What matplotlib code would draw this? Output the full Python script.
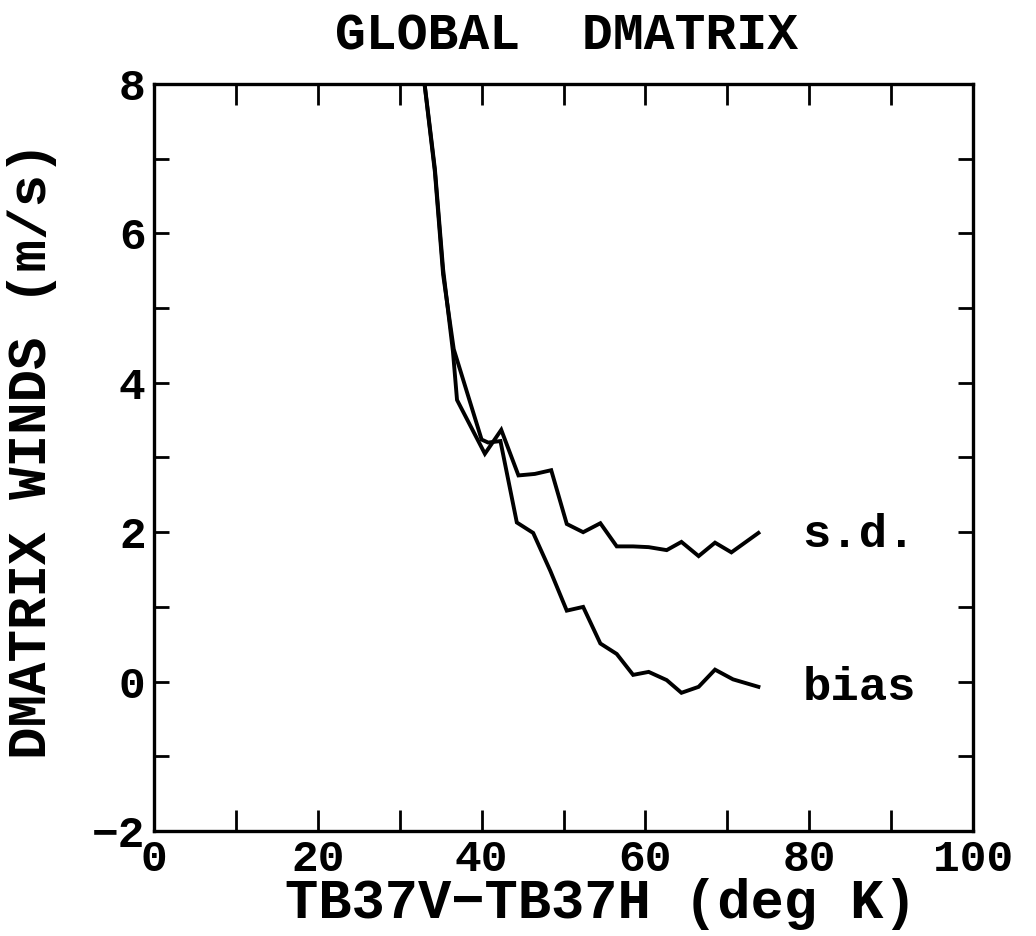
import matplotlib
matplotlib.use("Agg")
import matplotlib.pyplot as plt
from matplotlib.ticker import MultipleLocator

# Brightness-temperature difference (deg K) and DMATRIX wind statistics (m/s)
sd_x = [32.6, 34.3, 35.3, 36.5, 37.0, 40.4, 42.4, 44.5, 46.5, 48.5, 50.4,
        52.4, 54.5, 56.5, 58.5, 60.4, 62.6, 64.4, 66.5, 68.5, 70.5, 73.8]
sd_y = [8.4, 6.86, 5.52, 4.42, 3.77, 3.05, 3.37, 2.76, 2.78, 2.83, 2.11,
        2.00, 2.12, 1.81, 1.81, 1.80, 1.76, 1.87, 1.68, 1.86, 1.73, 1.99]

bias_x = [32.6, 34.3, 35.3, 36.6, 40.0, 40.8, 42.3, 44.3, 46.3, 48.4, 50.4,
          52.4, 54.5, 56.5, 58.5, 60.4, 62.6, 64.4, 66.5, 68.5, 70.7, 73.8]
bias_y = [8.4, 6.82, 5.45, 4.45, 3.24, 3.20, 3.22, 2.13, 1.99, 1.48, 0.95,
          1.00, 0.51, 0.37, 0.09, 0.13, 0.02, -0.15, -0.07, 0.16, 0.03, -0.07]

x_ticks = [0, 20, 40, 60, 80, 100]
y_ticks = [-2, 0, 2, 4, 6, 8]

title = "GLOBAL  DMATRIX"
x_label = "TB37V\u2212TB37H (deg K)"
y_label = "DMATRIX WINDS (m/s)"
sd_label = "s.d."
bias_label = "bias"

FONT = "Liberation Mono"

fig = plt.figure(figsize=(10.36, 9.36), dpi=100)
ax = fig.add_axes([154 / 1036, 1 - 831 / 936, (973 - 154) / 1036, (831 - 84) / 936])

ax.plot(sd_x, sd_y, color="black", lw=2.8, solid_joinstyle="miter")
ax.plot(bias_x, bias_y, color="black", lw=2.8, solid_joinstyle="miter")

ax.set_xlim(0, 100)
ax.set_ylim(-2, 8)
ax.set_xticks(x_ticks)
ax.set_yticks(y_ticks)
ax.xaxis.set_minor_locator(MultipleLocator(10))
ax.yaxis.set_minor_locator(MultipleLocator(1))

for s in ax.spines.values():
    s.set_linewidth(2.4)

ax.tick_params(axis="x", which="both", direction="in", top=True, bottom=True,
               length=15, width=2.0, pad=6)
ax.tick_params(axis="y", which="both", direction="in", left=True, right=True,
               length=11, width=2.0, pad=6)

tick_font = dict(family=FONT, weight="bold", size=32)
ax.set_xticklabels([str(v) for v in x_ticks], **tick_font)
ax.set_yticklabels([str(v).replace("-", "\u2212") for v in y_ticks], **tick_font)

fig.text(0.547, 1 - 36 / 936, title, ha="center", va="center",
         family=FONT, weight="bold", size=37)
fig.text(0.58, 1 - 904 / 936, x_label, ha="center", va="center",
         family=FONT, weight="bold", size=40)
fig.text(32 / 1036, 1 - 450 / 936, y_label, ha="center", va="center",
         rotation=90, family=FONT, weight="bold", size=39)

ax.text(79.2, 1.8, sd_label, ha="left", va="baseline",
        family=FONT, weight="bold", size=34)
ax.text(79.2, -0.24, bias_label, ha="left", va="baseline",
        family=FONT, weight="bold", size=34)

fig.savefig("out.png", dpi=100, facecolor="white")
